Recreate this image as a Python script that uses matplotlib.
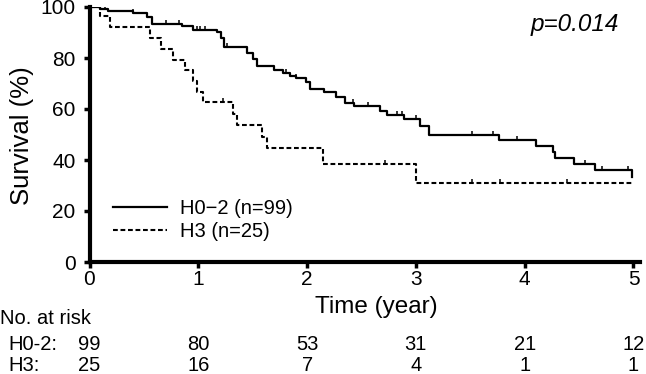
import numpy as np
import matplotlib
matplotlib.use("Agg")
import matplotlib.pyplot as plt
import matplotlib.transforms as mtransforms

plt.rcParams['font.family'] = ['Liberation Sans', 'DejaVu Sans']

# ---- data ----
h02_time = [0, 0.10, 0.17, 0.40, 0.53, 0.57, 0.85, 0.95, 1.17, 1.21, 1.24, 1.45, 1.50, 1.54,
            1.70, 1.78, 1.84, 1.90, 1.99, 2.03, 2.16, 2.27, 2.35, 2.43, 2.67, 2.73, 2.89,
            3.04, 3.12, 3.76, 4.10, 4.26, 4.28, 4.45, 4.65, 4.99]
h02_surv = [100, 99.2, 98.4, 97.6, 96.2, 93.4, 92.4, 91.0, 90.0, 88.0, 84.4, 82.0, 79.8, 77.0,
            75.4, 74.3, 73.0, 72.0, 70.4, 67.8, 66.6, 64.8, 62.4, 61.0, 59.4, 57.6, 56.0,
            53.5, 50.0, 47.8, 45.5, 43.0, 40.7, 38.4, 36.1, 33.5]
h02_cens = [0.14, 0.40, 0.70, 0.82, 0.99, 1.02, 1.06, 1.26, 1.50, 1.81, 1.90, 2.42, 2.56,
            2.83, 2.87, 3.00, 3.52, 3.71, 3.93, 4.55, 4.71, 4.95]

h3_time = [0, 0.10, 0.19, 0.56, 0.66, 0.77, 0.88, 0.95, 0.99, 1.04, 1.32, 1.36, 1.59, 1.63,
           2.15, 3.00, 5.00]
h3_surv = [100, 96.5, 92.0, 87.8, 83.6, 79.4, 75.2, 71.0, 66.8, 62.6, 58.2, 53.7, 49.2, 44.8,
           38.4, 30.8, 30.8]
h3_cens = [1.23, 2.72, 3.52, 3.77, 4.39]

risk_times = [0, 1, 2, 3, 4, 5]
risk_h02 = [99, 80, 53, 31, 21, 12]
risk_h3 = [25, 16, 7, 4, 1, 1]

legend_labels = ["H0\u22122 (n=99)", "H3 (n=25)"]
p_text = "p=0.014"

# ---- figure ----
W, H = 646, 374
fig = plt.figure(figsize=(W / 100, H / 100), dpi=100)
x0, x1 = 89.5, 640.0
ytop, ybot = 7.0, 262.0
ax = fig.add_axes([x0 / W, 1 - ybot / H, (x1 - x0) / W, (ybot - ytop) / H])

dash = (0, (2.3, 1.3))
l1, = ax.step(h02_time, h02_surv, where='post', color='black', lw=1.6, label=legend_labels[0])
l2, = ax.step(h3_time, h3_surv, where='post', color='black', lw=1.5, linestyle=dash,
              label=legend_labels[1])


def step_value(times, surv, c):
    idx = np.searchsorted(times, c, side='right') - 1
    return np.asarray(surv)[idx]


tick_marker = [(0, 0), (0, 1)]
ax.plot(h02_cens, step_value(h02_time, h02_surv, h02_cens), linestyle='none',
        marker=tick_marker, markersize=6, markeredgewidth=1.1, color='black')
ax.plot(h3_cens, step_value(h3_time, h3_surv, h3_cens), linestyle='none',
        marker=tick_marker, markersize=6, markeredgewidth=1.1, color='black')

ax.set_xlim(0, 5.06)
ax.set_ylim(0, 100)
ax.set_xticks(risk_times)
ax.set_yticks([0, 20, 40, 60, 80, 100])
for s in ['top', 'right']:
    ax.spines[s].set_visible(False)
for s in ['left', 'bottom']:
    ax.spines[s].set_linewidth(3.0)
ax.tick_params(axis='both', direction='out', length=4, width=2.5, labelsize=15)
ax.tick_params(axis='y', pad=6)
ax.tick_params(axis='x', pad=1.5)

fig.text(22 / W, 1 - 136 / H, "Survival (%)", rotation=90, ha='center', va='center', fontsize=18.5)
fig.text(376 / W, 1 - 307 / H, "Time (year)", ha='center', va='center', fontsize=17.5)

ax.text(0.962, 0.93, p_text, transform=ax.transAxes, style='italic', ha='right', va='center',
        fontsize=17.5)

leg = ax.legend(handles=[l1, l2], loc='center left',
                bbox_to_anchor=((113 - x0) / (x1 - x0), (ybot - 220) / (ybot - ytop)),
                frameon=False, fontsize=14.5, handlelength=2.7, handletextpad=0.65,
                labelspacing=0.22, borderpad=0, borderaxespad=0)

# ---- risk table ----
trans = mtransforms.blended_transform_factory(ax.transData, fig.transFigure)
fs = 14.5
fig.text(0 / W, 1 - 318.5 / H, "No. at risk", ha='left', va='center', fontsize=fs)
fig.text(8 / W, 1 - 345 / H, "H0-2:", ha='left', va='center', fontsize=fs)
fig.text(8 / W, 1 - 365.5 / H, "H3:", ha='left', va='center', fontsize=fs)
for t, a, b in zip(risk_times, risk_h02, risk_h3):
    ax.text(t, 1 - 345 / H, str(a), transform=trans, ha='center', va='center', fontsize=fs,
            clip_on=False)
    ax.text(t, 1 - 365.5 / H, str(b), transform=trans, ha='center', va='center', fontsize=fs,
            clip_on=False)

fig.savefig("out.png", dpi=100)
